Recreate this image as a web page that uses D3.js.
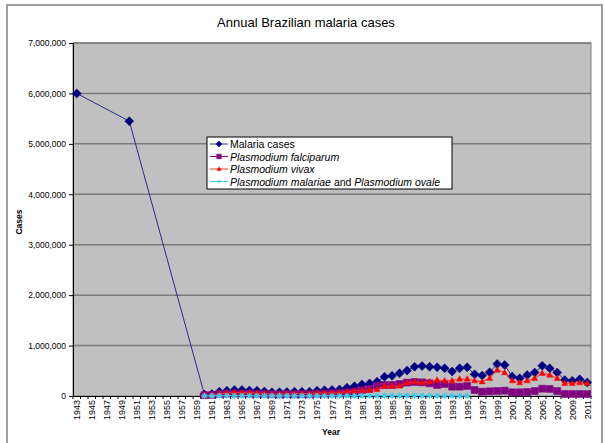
<!DOCTYPE html>
<html>
<head>
<meta charset="utf-8">
<script src="https://cdn.jsdelivr.net/npm/d3@7"></script>
<style>
  body { margin: 0; background: #fff; }
  svg text { font-family: "Liberation Sans", Arial, sans-serif; }
</style>
</head>
<body>
<div id="chart"></div>
<script>
// categories on the x axis (one per year)
const years = d3.range(1943, 2012);
const labelYears = years.filter(y => (y - 1943) % 2 === 0);

// early survey years
const earlyYears = [1943, 1950];
const earlyCases = [6000000, 5450000];

// annual series from 1960 onwards
const seriesYears = d3.range(1960, 2012);
const malariaCases = [
  30000, 40000, 85000, 105000, 120000, 120000, 110000, 105000, 90000, 75000,
  75000, 80000, 85000, 85000, 85000, 105000, 115000, 120000, 130000, 165000,
  195000, 230000, 250000, 285000, 380000, 400000, 450000, 505000, 580000, 595000,
  580000, 570000, 550000, 485000, 550000, 570000, 430000, 405000, 470000, 635000,
  615000, 385000, 350000, 415000, 465000, 600000, 550000, 465000, 315000, 300000,
  330000, 270000
];
const falciparum = [
  15000, 20000, 40000, 45000, 50000, 50000, 45000, 45000, 40000, 35000,
  30000, 35000, 35000, 35000, 35000, 45000, 50000, 55000, 60000, 70000,
  90000, 115000, 140000, 205000, 218000, 218000, 238000, 265000, 278000, 271000,
  251000, 218000, 238000, 185000, 185000, 198000, 119000, 86000, 93000, 99000,
  106000, 73000, 73000, 79000, 99000, 145000, 139000, 99000, 40000, 40000,
  40000, 40000
];
const vivax = [
  15000, 18000, 45000, 58000, 68000, 68000, 62000, 58000, 48000, 40000,
  42000, 44000, 48000, 48000, 48000, 58000, 62000, 62000, 68000, 90000,
  100000, 110000, 115000, 132000, 198000, 198000, 200000, 265000, 280000, 265000,
  284000, 317000, 304000, 304000, 337000, 337000, 304000, 284000, 351000, 516000,
  463000, 304000, 265000, 304000, 351000, 450000, 417000, 351000, 251000, 251000,
  265000, 251000
];
// malariae and ovale, 1960-1995
const malariaeOvale = [
  3000, 3000, 4000, 5000, 5000, 5000, 5000, 4000, 4000, 3000,
  3000, 3000, 3000, 3000, 3000, 3000, 3000, 3000, 3000, 4000,
  4000, 5000, 5000, 6000, 6000, 6000, 6000, 6000, 6000, 6000,
  5000, 5000, 5000, 4000, 4000, 3000
];

const W = 605, H = 443;
const plot = { left: 73, top: 43, right: 591, bottom: 396 };

const svg = d3.select('#chart').append('svg')
  .attr('width', W).attr('height', H);

// chart area border
svg.append('rect')
  .attr('x', 7).attr('y', 5)
  .attr('width', 595).attr('height', 440)
  .attr('fill', '#fff')
  .attr('stroke', '#808080')
  .attr('stroke-width', 1.5);

const x = d3.scaleBand().domain(years).range([plot.left, plot.right]);
const cx = d => x(d) + x.bandwidth() / 2;
const y = d3.scaleLinear().domain([0, 7000000]).range([plot.bottom, plot.top]);

// plot area
svg.append('rect')
  .attr('x', plot.left).attr('y', plot.top)
  .attr('width', plot.right - plot.left).attr('height', plot.bottom - plot.top)
  .attr('fill', '#c0c0c0')
  .attr('stroke', '#808080');

// gridlines
svg.append('g').selectAll('line')
  .data(d3.range(1000000, 7000001, 1000000))
  .enter().append('line')
  .attr('x1', plot.left).attr('x2', plot.right)
  .attr('y1', d => y(d)).attr('y2', d => y(d))
  .attr('stroke', '#7a7a7a')
  .attr('stroke-width', 1.5);

// y axis
const yAxis = svg.append('g')
  .attr('transform', `translate(${plot.left},0)`)
  .call(d3.axisLeft(y).tickValues(d3.range(0, 7000001, 1000000))
    .tickFormat(d3.format(',')).tickSize(4).tickPadding(3));
yAxis.select('.domain').attr('stroke', '#000');
yAxis.selectAll('text').style('font-size', '8.5px').attr('fill', '#000');

// x axis
const xAxis = svg.append('g')
  .attr('transform', `translate(0,${plot.bottom})`)
  .call(d3.axisBottom(x).tickValues(labelYears).tickSize(0).tickPadding(0));
xAxis.select('.domain').attr('stroke', '#000');
xAxis.selectAll('text')
  .style('font-size', '9px')
  .attr('fill', '#000')
  .attr('text-anchor', 'end')
  .attr('transform', 'translate(3.5,4) rotate(-90)')
  .attr('dy', 0).attr('y', 0).attr('x', 0);
// category tick marks
svg.append('g').selectAll('line')
  .data(years.concat([2012]))
  .enter().append('line')
  .attr('x1', d => d === 2012 ? plot.right : x(d))
  .attr('x2', d => d === 2012 ? plot.right : x(d))
  .attr('y1', plot.bottom).attr('y2', plot.bottom + 3)
  .attr('stroke', '#000');

// axis titles
svg.append('text')
  .attr('transform', 'translate(22,222) rotate(-90)')
  .attr('text-anchor', 'middle')
  .style('font-size', '8.5px').style('font-weight', 'bold')
  .text('Cases');
svg.append('text')
  .attr('x', 331).attr('y', 435)
  .attr('text-anchor', 'middle')
  .style('font-size', '8.5px').style('font-weight', 'bold')
  .text('Year');

svg.append('text')
  .attr('x', 306).attr('y', 27)
  .attr('text-anchor', 'middle')
  .style('font-size', '13px')
  .text('Annual Brazilian malaria cases');

// series
const diamond = 'M0,-4.5L4.5,0L0,4.5L-4.5,0Z';
const square = 'M-3.5,-3.5H3.5V3.5H-3.5Z';
const triangle = 'M0,-3.2L3,2.2H-3Z';
const asterisk = 'M-3,0H3M0,-3V3M-2.2,-2.2L2.2,2.2M-2.2,2.2L2.2,-2.2';

const series = [
  { name: 'Malaria cases', color: '#000080', line: '#2b2b8f', marker: diamond, stroke: false,
    data: earlyYears.map((yr, i) => [yr, earlyCases[i]])
      .concat(seriesYears.map((yr, i) => [yr, malariaCases[i]])) },
  { name: 'Plasmodium falciparum', color: '#800080', line: '#800080', marker: square, stroke: false,
    data: seriesYears.map((yr, i) => [yr, falciparum[i]]) },
  { name: 'Plasmodium vivax', color: '#ff0000', line: '#ff3030', marker: triangle, stroke: false,
    data: seriesYears.map((yr, i) => [yr, vivax[i]]) },
  { name: 'Plasmodium malariae and Plasmodium ovale', color: '#40c8e8', line: '#40c8e8', marker: asterisk, stroke: true,
    data: malariaeOvale.map((v, i) => [seriesYears[i], v]) }
];

const line = d3.line().x(d => cx(d[0])).y(d => y(d[1]));

series.forEach(s => {
  const g = svg.append('g');
  g.append('path')
    .attr('d', line(s.data))
    .attr('fill', 'none')
    .attr('stroke', s.line)
    .attr('stroke-width', 1);
  g.selectAll('path.m')
    .data(s.data)
    .enter().append('path')
    .attr('class', 'm')
    .attr('d', s.marker)
    .attr('transform', d => `translate(${cx(d[0])},${y(d[1])})`)
    .attr('fill', s.stroke ? 'none' : s.color)
    .attr('stroke', s.color)
    .attr('stroke-width', s.stroke ? 1.2 : 0.5);
});

// legend
const legend = svg.append('g').attr('transform', 'translate(207,137)');
legend.append('rect')
  .attr('width', 245).attr('height', 52)
  .attr('fill', '#fff').attr('stroke', '#000');
series.forEach((s, i) => {
  const ly = 7 + i * 12.5;
  legend.append('line')
    .attr('x1', 3).attr('x2', 21).attr('y1', ly).attr('y2', ly)
    .attr('stroke', s.line);
  legend.append('path')
    .attr('d', s.marker)
    .attr('transform', `translate(12,${ly}) scale(0.65)`)
    .attr('fill', s.stroke ? 'none' : s.color)
    .attr('stroke', s.color);
  const t = legend.append('text')
    .attr('x', 23).attr('y', ly + 4)
    .style('font-size', '10.5px');
  if (i === 0) {
    t.text(s.name);
  } else if (i === 3) {
    t.append('tspan').style('font-style', 'italic').text('Plasmodium malariae');
    t.append('tspan').text(' and ');
    t.append('tspan').style('font-style', 'italic').text('Plasmodium ovale');
  } else {
    t.style('font-style', 'italic').text(s.name);
  }
});
</script>
</body>
</html>
